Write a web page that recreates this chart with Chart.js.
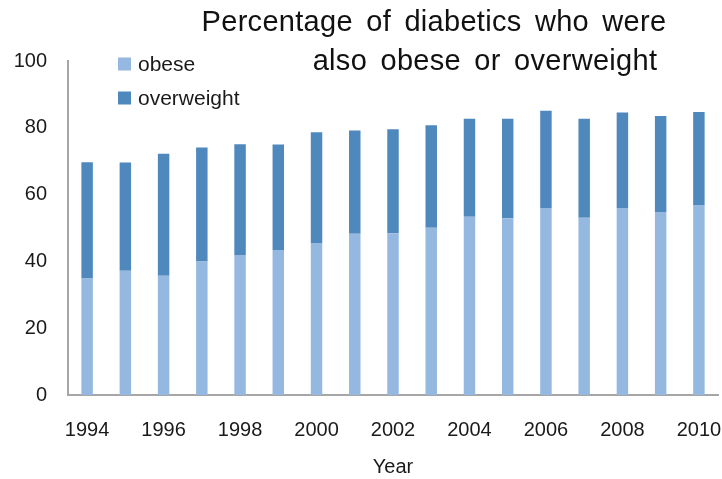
<!DOCTYPE html>
<html>
<head>
<meta charset="utf-8">
<script src="https://cdn.jsdelivr.net/npm/chart.js@4"></script>
<style>
  html, body { margin: 0; padding: 0; background: #fff; }
  #wrap { width: 722px; height: 479px; }
</style>
</head>
<body>
<div id="wrap"><canvas id="diabetes-chart" width="722" height="479"></canvas></div>
<script>
const years = ['1994', '1995', '1996', '1997', '1998', '1999', '2000', '2001', '2002',
  '2003', '2004', '2005', '2006', '2007', '2008', '2009', '2010'];
const obese = [34.9, 37.2, 35.7, 40.0, 41.9, 43.4, 45.5, 48.3, 48.4, 50.1, 53.4, 52.9, 56.0, 53.1, 56.0, 54.8, 56.9];
const overweight = [34.8, 32.4, 36.5, 34.1, 33.2, 31.6, 33.2, 30.9, 31.2, 30.7, 29.3, 29.8, 29.1, 29.6, 28.6, 28.7, 27.8];
const titleLines = ['Percentage of diabetics who were', 'also obese or overweight'];

Chart.defaults.font.family = '"Liberation Sans", Arial, sans-serif';
Chart.defaults.color = '#1a1a1a';

// title is drawn by hand since its two lines are not centred on the same point
const titlePlugin = {
  id: 'offsetTitle',
  afterDraw(chart) {
    const ctx = chart.ctx;
    ctx.save();
    ctx.fillStyle = '#111';
    ctx.font = '29px "Liberation Sans", Arial, sans-serif';
    ctx.letterSpacing = '0.3px';
    ctx.wordSpacing = '5px';
    ctx.textAlign = 'center';
    ctx.textBaseline = 'alphabetic';
    ctx.fillText(titleLines[0], 434, 31);
    ctx.fillText(titleLines[1], 485, 70);
    ctx.restore();
  }
};

// legend sits inside the plot, partly above it
const boxLegend = {
  id: 'boxLegend',
  afterDraw(chart) {
    const ctx = chart.ctx;
    const x = chart.chartArea.left + 50;
    let y = chart.chartArea.top + 3;
    ctx.save();
    ctx.font = '21px "Liberation Sans", Arial, sans-serif';
    ctx.textBaseline = 'middle';
    chart.data.datasets.forEach((ds) => {
      ctx.fillStyle = ds.backgroundColor;
      ctx.fillRect(x, y - 6.5, 13, 13);
      ctx.fillStyle = '#1a1a1a';
      ctx.fillText(ds.label, x + 20, y + 1);
      y += 34;
    });
    ctx.restore();
  }
};

const data = {
  labels: years,
  datasets: [{
    label: 'obese',
    data: obese,
    backgroundColor: '#95B8E0',
    barPercentage: 0.3,
    categoryPercentage: 1,
  }, {
    label: 'overweight',
    data: overweight,
    backgroundColor: '#4F88BD',
    barPercentage: 0.3,
    categoryPercentage: 1,
  }]
};

const config = {
  type: 'bar',
  data: data,
  options: {
    responsive: false,
    animation: false,
    layout: {
      padding: { left: 14, top: 61, right: 4, bottom: 0 }
    },
    scales: {
      x: {
        stacked: true,
        grid: { display: false, drawTicks: false },
        border: { color: '#A6A6A6', width: 2 },
        ticks: {
          autoSkip: false,
          maxRotation: 0,
          padding: 23,
          font: { size: 20 },
          callback: function (value, index) {
            return index % 2 === 0 ? years[index] : '';
          }
        },
        title: {
          display: true,
          text: 'Year',
          font: { size: 20 },
          padding: { top: 0, bottom: 0 }
        },
        afterFit: (scale) => {
          scale.height = 84;
          // let the last label run off the edge like the original
          scale.paddingRight = 0;
          scale.paddingLeft = 0;
        }
      },
      y: {
        stacked: true,
        min: 0,
        max: 100,
        grid: { display: false, drawTicks: false },
        border: { color: '#A6A6A6', width: 2 },
        ticks: {
          stepSize: 20,
          padding: 21,
          font: { size: 20 }
        },
        afterFit: (scale) => { scale.width = 54; }
      }
    },
    plugins: {
      legend: { display: false },
      tooltip: { enabled: false }
    }
  },
  plugins: [titlePlugin, boxLegend]
};

const myChart = new Chart(document.getElementById('diabetes-chart'), config);
</script>
</body>
</html>
